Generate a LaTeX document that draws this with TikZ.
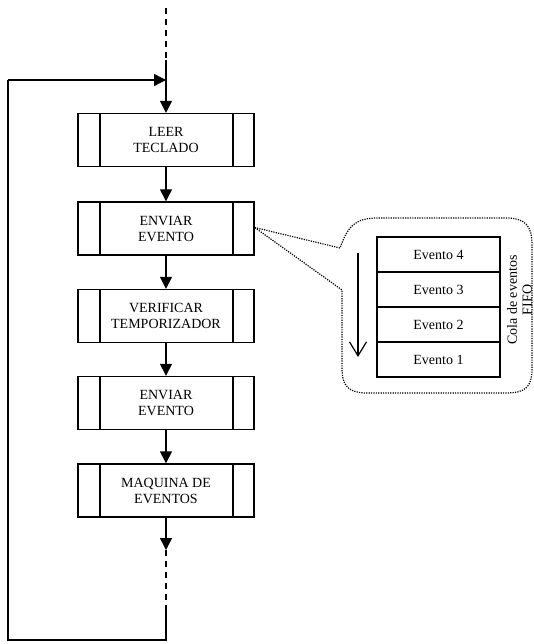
\documentclass[tikz,border=0pt]{standalone}
\usepackage{fontspec}
\setmainfont{Liberation Serif}
\usetikzlibrary{arrows.meta}
\begin{document}
\begin{tikzpicture}[x=1pt,y=-1pt,
  flow/.style={line width=1.4pt},
  tip/.style={-{Triangle[length=12pt,width=12pt]}},
  subproc/.style={draw,line width=1.4pt,minimum width=176pt,minimum height=53pt,
    inner sep=0pt,align=center,font=\fontsize{14}{16}\selectfont,
    path picture={
      \draw[line width=1.4pt] ([xshift=22pt]path picture bounding box.north west) -- ([xshift=22pt]path picture bounding box.south west);
      \draw[line width=1.4pt] ([xshift=-21pt]path picture bounding box.north east) -- ([xshift=-21pt]path picture bounding box.south east);
    }},
  cell/.style={draw,line width=1.4pt,minimum width=123pt,minimum height=35pt,
    inner sep=0pt,font=\fontsize{14}{16}\selectfont},
  dots/.style={line width=1.2pt,dash pattern=on 1.2pt off 1.2pt}]
\useasboundingbox (0,0) rectangle (534,644);

% main sequence of sub-processes
\node[subproc] (b1) at (166,140) {LEER\\TECLADO};
\node[subproc] (b2) at (166,228.5) {ENVIAR\\EVENTO};
\node[subproc] (b3) at (166,316) {VERIFICAR\\TEMPORIZADOR};
\node[subproc] (b4) at (166,403) {ENVIAR\\EVENTO};
\node[subproc] (b5) at (166,490.5) {MAQUINA DE\\EVENTOS};

% loop coordinates
\coordinate (top) at (166,8);
\coordinate (topsolid) at (166,60);
\coordinate (join) at (166,80);
\coordinate (lt) at (8,80);
\coordinate (lb) at (8,640);
\coordinate (rb) at (166,640);
\coordinate (dashend) at (166,610);
\coordinate (botarrow) at (166,550);

% incoming path
\draw[flow,dashed,dash pattern=on 6pt off 5pt] (top) -- (topsolid);
\draw[flow,tip] (topsolid) -- (b1.north);
\draw[flow,tip] (lt) -- (join);

% arrows between steps
\draw[flow,tip] (b1.south) -- (b2.north);
\draw[flow,tip] (b2.south) -- (b3.north);
\draw[flow,tip] (b3.south) -- (b4.north);
\draw[flow,tip] (b4.south) -- (b5.north);
\draw[flow,tip] (b5.south) -- (botarrow);
\draw[flow,dashed,dash pattern=on 6pt off 5pt] (botarrow) -- (dashend);
\draw[flow] (dashend) -- (rb) -- (lb) -- (lt);

% event queue
\node[cell] (q4) at (438.5,254.5) {Evento 4};
\node[cell] (q3) at (438.5,289.5) {Evento 3};
\node[cell] (q2) at (438.5,324.5) {Evento 2};
\node[cell] (q1) at (438.5,359.5) {Evento 1};
\coordinate (qa) at (358,253);
\coordinate (qb) at (358,357);
\draw[line width=1.2pt,-{Straight Barb[length=14pt,width=17pt,line width=1.2pt]}] (qa) -- (qb);
\node[rotate=90,align=center,font=\fontsize{14}{15}\selectfont,inner sep=0pt] (lbl) at (519.5,300) {Cola de eventos\\FIFO};

% callout around the queue
\coordinate (p) at ([yshift=1pt]b2.east);
\coordinate (c1) at (340,248);
\coordinate (c2) at (342,290);
\draw[dots] (p) -- (c1)
  .. controls (348,226) and (355,218) .. (378,218)
  -- (505,218) .. controls (525,218) and (532,225) .. (532,245)
  -- (532,368) .. controls (532,388) and (525,393) .. (505,393)
  -- (368,393) .. controls (348,393) and (342,386) .. (342,368)
  -- (c2) -- (p);
\end{tikzpicture}
\end{document}
